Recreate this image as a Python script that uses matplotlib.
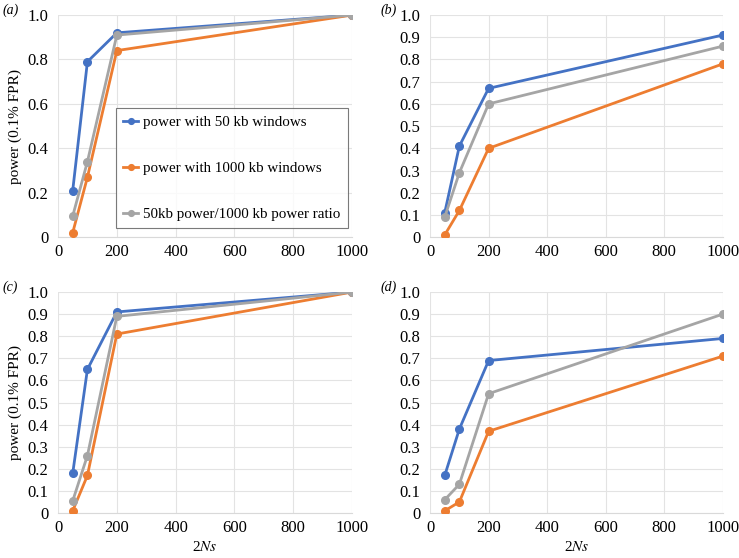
import matplotlib.pyplot as plt

plt.rcParams['font.family'] = ['Liberation Serif', 'DejaVu Serif']
plt.rcParams['mathtext.fontset'] = 'stix'

# data
x = [50, 100, 200, 1000]
labels = ['power with 50 kb windows', 'power with 1000 kb windows',
          '50kb power/1000 kb power ratio']
colors = ['#4472C4', '#ED7D31', '#A5A5A5']

a_blue = [0.21, 0.79, 0.92, 1.0]
a_orange = [0.02, 0.27, 0.84, 1.0]
a_gray = [0.095, 0.34, 0.91, 1.0]

b_blue = [0.11, 0.41, 0.67, 0.91]
b_orange = [0.01, 0.12, 0.40, 0.78]
b_gray = [0.09, 0.29, 0.60, 0.86]

c_blue = [0.18, 0.65, 0.91, 1.0]
c_orange = [0.01, 0.17, 0.81, 1.0]
c_gray = [0.055, 0.26, 0.89, 1.0]

d_blue = [0.17, 0.38, 0.69, 0.79]
d_orange = [0.01, 0.05, 0.37, 0.71]
d_gray = [0.06, 0.13, 0.54, 0.90]

panels = [
    ('a', [a_blue, a_orange, a_gray], [0.0785, 0.575, 0.398, 0.398], 0.2),
    ('b', [b_blue, b_orange, b_gray], [0.582, 0.575, 0.396, 0.398], 0.1),
    ('c', [c_blue, c_orange, c_gray], [0.0785, 0.0806, 0.398, 0.396], 0.1),
    ('d', [d_blue, d_orange, d_gray], [0.582, 0.0806, 0.396, 0.396], 0.1),
]

fig = plt.figure(figsize=(7.39, 5.58), dpi=100)

for name, series, pos, step in panels:
    ax = fig.add_axes(pos)
    for i in [0, 1, 2]:
        ax.plot(x, series[i], color=colors[i], lw=2, marker='o', ms=5.5,
                label=labels[i], zorder=3)
    ax.set_xlim(0, 1000)
    ax.set_ylim(0, 1.0)
    ax.set_xticks(range(0, 1001, 200))
    n = int(round(1.0 / step))
    yt = [i * step for i in range(n + 1)]
    ax.set_yticks(yt)
    ax.set_yticklabels(['0'] + ['%.1f' % v for v in yt[1:]])
    ax.grid(color='#E3E3E3', lw=0.8)
    ax.set_axisbelow(True)
    for s in ['top', 'right', 'left']:
        ax.spines[s].set_visible(False)
    ax.spines['bottom'].set_color('#D9D9D9')
    ax.tick_params(length=0, labelsize=12, pad=5)
    ax.tick_params(axis='y', pad=7)
    if name in ('a', 'c'):
        ax.set_ylabel('power (0.1% FPR)', fontsize=11, labelpad=4)
    if name in ('c', 'd'):
        ax.set_xlabel('2$\\it{Ns}$', fontsize=11, labelpad=3)
    ax.text(-0.19 if name in ('a', 'c') else -0.17, 1.02, '(' + name + ')',
            transform=ax.transAxes, fontsize=10, style='italic',
            ha='left', va='center')
    if name == 'a':
        leg = ax.legend(loc='lower left', bbox_to_anchor=(0.197, 0.04),
                        fontsize=10.8, frameon=True, fancybox=False,
                        labelspacing=2.15, handlelength=1.0, handletextpad=0.3,
                        borderpad=0.5, borderaxespad=0, markerscale=0.75)
        leg.get_frame().set_edgecolor('#595959')
        leg.get_frame().set_linewidth(0.8)

fig.savefig('out.png', dpi=100)
